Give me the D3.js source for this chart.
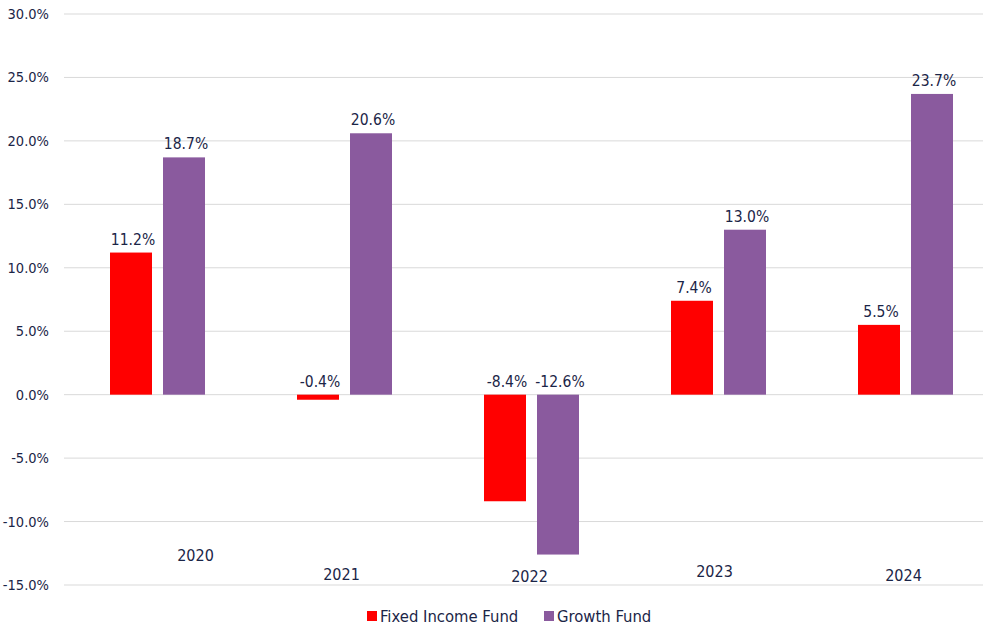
<!DOCTYPE html>
<html>
<head>
<meta charset="utf-8">
<script src="https://cdn.jsdelivr.net/npm/d3@7"></script>
<style>
  body { margin: 0; background: #fff; }
  text { font-family: Tahoma, "DejaVu Sans Condensed", "DejaVu Sans", sans-serif; fill: #1b2547; }
</style>
</head>
<body>
<div id="chart"></div>
<script>
const years = ["2020", "2021", "2022", "2023", "2024"];
const fixedIncome = [11.2, -0.4, -8.4, 7.4, 5.5];
const growth = [18.7, 20.6, -12.6, 13.0, 23.7];
const seriesNames = ["Fixed Income Fund", "Growth Fund"];
const yTicks = [-15, -10, -5, 0, 5, 10, 15, 20, 25, 30];

const colors = ["#ff0000", "#8a5a9e"];
// the year labels sit at uneven spots in the original: [dx, dy from bottom line]
const labelNudge = [[38, -24], [-3, -5], [-2, -3], [-4, -8], [-2, -4]];

const W = 983, H = 638;
const margin = {top: 14, left: 64};
const plotW = 935, plotH = 571;

const svg = d3.select("#chart").append("svg")
    .attr("width", W).attr("height", H);

const g = svg.append("g")
    .attr("transform", "translate(" + margin.left + "," + margin.top + ")");

const y = d3.scaleLinear().domain([-15, 30]).range([plotH, 0]);
const x = d3.scaleBand().domain(years).range([0, plotW]);
const x1 = d3.scaleBand().domain(seriesNames)
    .range([46, x.bandwidth() - 46]).paddingInner(0.2075);

// grid + tick labels
g.selectAll(".grid").data(yTicks).enter().append("line")
    .attr("x1", 0).attr("x2", plotW)
    .attr("y1", d => y(d)).attr("y2", d => y(d))
    .attr("stroke", "#d9d9d9").attr("stroke-width", 1);

g.selectAll(".tick").data(yTicks).enter().append("text")
    .attr("x", -15).attr("y", d => y(d) + 5)
    .attr("text-anchor", "end")
    .style("font-size", "14.5px")
    .text(d => d.toFixed(1) + "%");

const rows = years.map((yr, i) => ({year: yr, vals: [fixedIncome[i], growth[i]]}));

const grp = g.selectAll(".grp").data(rows).enter().append("g")
    .attr("transform", d => "translate(" + x(d.year) + ",0)");

grp.selectAll("rect").data(d => d.vals.map((v, j) => ({v: v, s: seriesNames[j], j: j})))
  .enter().append("rect")
    .attr("x", d => x1(d.s))
    .attr("width", x1.bandwidth())
    .attr("y", d => y(Math.max(0, d.v)))
    .attr("height", d => Math.abs(y(d.v) - y(0)))
    .attr("fill", d => colors[d.j]);

grp.selectAll(".val").data(d => d.vals.map((v, j) => ({v: v, s: seriesNames[j]})))
  .enter().append("text")
    .attr("x", d => x1(d.s) + x1.bandwidth() / 2 + 2)
    .attr("y", d => y(Math.max(0, d.v)) - 8)
    .attr("text-anchor", "middle")
    .style("font-size", "15.5px")
    .text(d => d.v.toFixed(1) + "%");

// year labels
g.selectAll(".yr").data(years).enter().append("text")
    .attr("x", (d, i) => x(d) + x.bandwidth() / 2 + labelNudge[i][0])
    .attr("y", (d, i) => y(-15) + labelNudge[i][1])
    .attr("text-anchor", "middle")
    .style("font-size", "16px")
    .text(d => d);

// legend
const leg = svg.append("g").attr("transform", "translate(367,611)");
const legX = [0, 177];
seriesNames.forEach((n, i) => {
  leg.append("rect").attr("x", legX[i]).attr("y", 0)
    .attr("width", 10).attr("height", 10).attr("fill", colors[i]);
  leg.append("text").attr("x", legX[i] + 13).attr("y", 10.5)
    .style("font-size", "16.5px").text(n);
});
</script>
</body>
</html>
